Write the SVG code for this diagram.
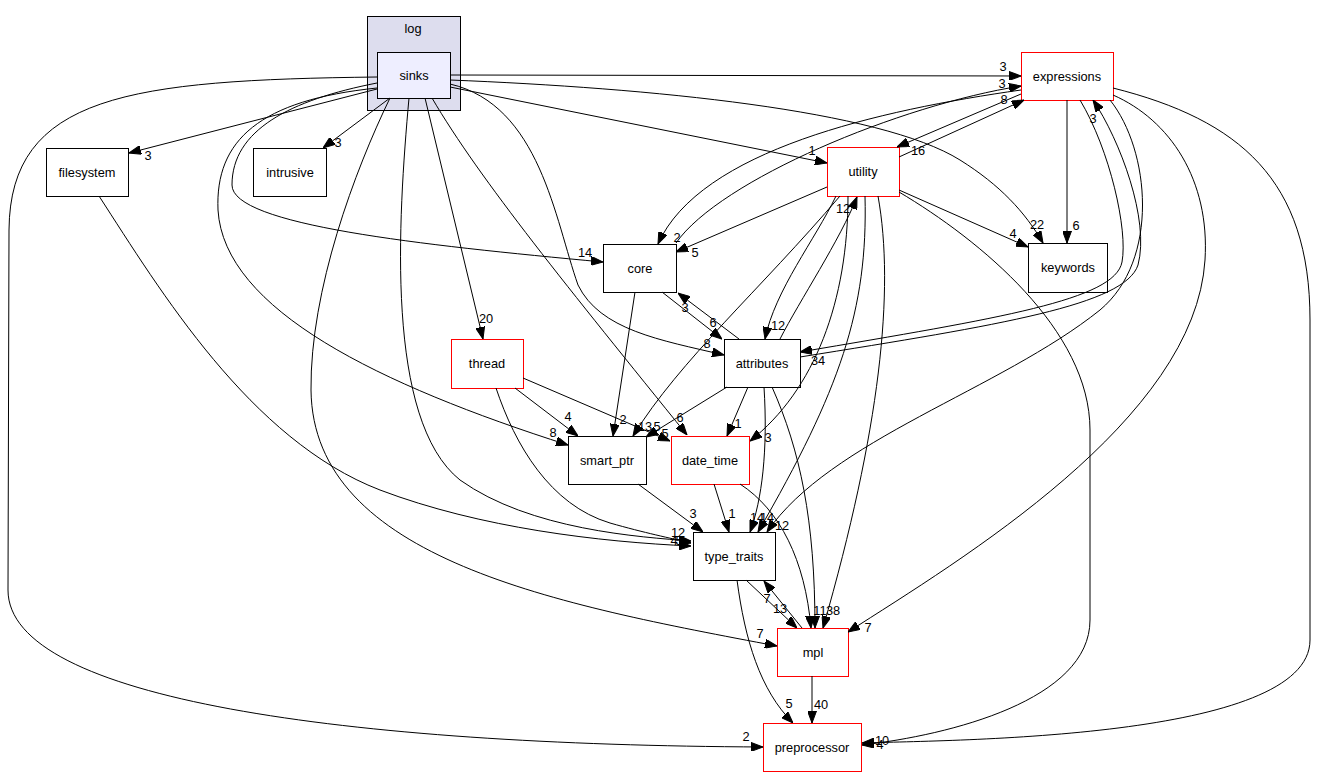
<svg xmlns="http://www.w3.org/2000/svg" width="1326" height="777" viewBox="0 0 1326 777">
<defs>
<marker id="ah" viewBox="0 0 12 9" refX="12" refY="4.5" markerWidth="12" markerHeight="9" orient="auto" markerUnits="userSpaceOnUse">
<path d="M0,0 L12,4.5 L0,9 z" fill="#000" stroke="#000" stroke-width="1"/>
</marker>
</defs>
<style>
text{font-family:"Liberation Sans",Arial,sans-serif;font-size:12.8px;fill:#000;text-anchor:middle}
.n rect{fill:#fff;stroke:#000;stroke-width:1}
.r rect{stroke:#ff0000}
.e path{fill:none;stroke:#000;stroke-width:1;marker-end:url(#ah)}
</style>
<rect width="1326" height="777" fill="#fff"/>
<g id="cluster_log">
<rect x="367.5" y="16.5" width="93" height="94" fill="#ddddee" stroke="#000"/>
<text x="413" y="32.5">log</text>
</g>
<g id="sinks" class="n"><rect x="377.5" y="52.5" width="73" height="46" style="fill:#eeeeff"/><text x="414" y="79.5">sinks</text></g>
<g id="expressions" class="n r"><rect x="1021.5" y="52.5" width="92" height="48"/><text x="1067" y="80.5">expressions</text></g>
<g id="utility" class="n r"><rect x="827.5" y="147.5" width="72" height="49"/><text x="863" y="176">utility</text></g>
<g id="core" class="n"><rect x="603.5" y="244.5" width="73" height="48"/><text x="640" y="272.5">core</text></g>
<g id="keywords" class="n"><rect x="1028.5" y="243.5" width="79" height="49"/><text x="1068" y="272">keywords</text></g>
<g id="filesystem" class="n"><rect x="46.5" y="148.5" width="82" height="48"/><text x="87" y="176.5">filesystem</text></g>
<g id="intrusive" class="n"><rect x="253.5" y="148.5" width="73" height="48"/><text x="290" y="176.5">intrusive</text></g>
<g id="attributes" class="n"><rect x="724.5" y="339.5" width="76" height="48"/><text x="762" y="367.5">attributes</text></g>
<g id="thread" class="n r"><rect x="451.5" y="339.5" width="72" height="49"/><text x="487" y="368">thread</text></g>
<g id="smart_ptr" class="n"><rect x="568.5" y="436.5" width="78" height="48"/><text x="607" y="464.5">smart_ptr</text></g>
<g id="date_time" class="n r"><rect x="671.5" y="436.5" width="78" height="48"/><text x="710" y="464.5">date_time</text></g>
<g id="type_traits" class="n"><rect x="693.5" y="532.5" width="82" height="48"/><text x="734" y="560.5">type_traits</text></g>
<g id="mpl" class="n r"><rect x="777.5" y="628.5" width="71" height="48"/><text x="813" y="656.5">mpl</text></g>
<g id="preprocessor" class="n r"><rect x="763.5" y="723.5" width="98" height="48"/><text x="812" y="751.5">preprocessor</text></g>
<g id="connectors" class="e">
<path d="M450,75 L1021,76"/>
<path d="M377,89 L129,153"/>
<path d="M390,98 L323,148"/>
<path d="M377,83 C290,100 232,130 232,185 C232,225 420,245 603,262"/>
<path d="M377,88 C260,100 215,140 218,210 C224,310 380,385 568,445"/>
<path d="M377,77 C130,80 10,95 9,230 L8,590 C8,700 350,745 763,747"/>
<path d="M409,98 C398,220 385,420 460,480 C530,530 640,537 691,541"/>
<path d="M99,196 C160,290 250,440 380,490 C480,528 600,542 691,546"/>
<path d="M496,388 C515,445 550,505 610,523 C645,533 670,538 691,543"/>
<path d="M390,98 C355,170 310,290 311,390 C313,560 560,605 777,646"/>
<path d="M425,98 L483,339"/>
<path d="M432,98 C480,180 570,290 687,435"/>
<path d="M450,84 C540,105 555,220 578,285 C600,330 660,340 724,355"/>
<path d="M450,87 L827,163"/>
<path d="M450,80 C650,88 880,110 960,160 C1000,185 1025,212 1043,243"/>
<path d="M827,187 L676,252"/>
<path d="M1021,90 C880,110 700,150 658,244"/>
<path d="M676,243 C720,180 900,105 1021,86"/>
<path d="M899,157 L1024,100"/>
<path d="M1021,94 L897,147"/>
<path d="M899,190 L1028,247"/>
<path d="M1067,100 L1067,243"/>
<path d="M836,196 C815,240 775,290 765,339"/>
<path d="M780,339 C800,300 840,240 857,197"/>
<path d="M840,196 C760,290 680,360 633,436"/>
<path d="M635,292 L613,436"/>
<path d="M727,387 L646,437"/>
<path d="M848,196 C848,300 815,390 750,441"/>
<path d="M748,387 L727,436"/>
<path d="M523,378 L670,441"/>
<path d="M515,388 L578,436"/>
<path d="M714,484 L729,532"/>
<path d="M638,484 L703,532"/>
<path d="M764,387 C768,450 762,500 750,532"/>
<path d="M865,196 C868,310 840,390 758,532"/>
<path d="M1110,100 C1150,150 1160,260 1100,310 C1000,390 830,440 767,532"/>
<path d="M740,484 C780,510 805,560 811,628"/>
<path d="M772,387 C800,450 815,520 815,628"/>
<path d="M878,196 C895,290 880,430 823,628"/>
<path d="M746,580 L797,628"/>
<path d="M802,628 L764,581"/>
<path d="M737,580 C745,640 760,690 793,723"/>
<path d="M812,676 L812,723"/>
<path d="M1113,95 C1170,120 1210,180 1205,260 C1195,420 960,560 848,632"/>
<path d="M1113,88 C1240,120 1310,180 1310,320 L1310,640 C1310,740 950,740 862,743"/>
<path d="M899,192 C980,240 1090,330 1090,430 L1090,620 C1090,700 950,735 862,745"/>
<path d="M1080,100 C1110,150 1128,230 1122,262 C1115,300 1000,318 800,352"/>
<path d="M800,357 C1000,325 1125,305 1138,265 C1150,220 1120,140 1093,100"/>
<path d="M662,292 L722,339"/>
<path d="M739,339 L678,293"/>
</g>
<g id="labels">
<text x="1003" y="70.5">3</text>
<text x="1002" y="87.5">3</text>
<text x="1004" y="103.5">8</text>
<text x="1093" y="122.5">3</text>
<text x="918" y="154.5">16</text>
<text x="812" y="154.5">1</text>
<text x="677" y="241.5">2</text>
<text x="695" y="256.5">5</text>
<text x="585" y="256.5">14</text>
<text x="1037" y="228.5">22</text>
<text x="1013" y="237.5">4</text>
<text x="1076" y="229.5">6</text>
<text x="778" y="329.5">12</text>
<text x="843" y="212.5">12</text>
<text x="685" y="311.5">3</text>
<text x="713" y="326.5">6</text>
<text x="707" y="347.5">8</text>
<text x="818" y="364.5">34</text>
<text x="148" y="159.5">3</text>
<text x="338" y="146.5">3</text>
<text x="486" y="322.5">20</text>
<text x="568" y="420.5">4</text>
<text x="553" y="436.5">8</text>
<text x="623" y="423.5">2</text>
<text x="645" y="430.5">13</text>
<text x="657" y="430.5">5</text>
<text x="665" y="437.5">5</text>
<text x="680" y="421.5">6</text>
<text x="738" y="427.5">1</text>
<text x="768" y="441.5">3</text>
<text x="693" y="517.5">3</text>
<text x="732" y="517.5">1</text>
<text x="757" y="521.5">14</text>
<text x="767" y="521.5">14</text>
<text x="782" y="529.5">12</text>
<text x="678" y="536.5">12</text>
<text x="674" y="544.5">4</text>
<text x="679" y="544.5">5</text>
<text x="767" y="602.5">7</text>
<text x="780" y="612.5">13</text>
<text x="760" y="637.5">7</text>
<text x="820" y="614.5">11</text>
<text x="833" y="614.5">38</text>
<text x="868" y="631.5">7</text>
<text x="746" y="740.5">2</text>
<text x="789" y="707.5">5</text>
<text x="821" y="708.5">40</text>
<text x="882" y="744.5">10</text>
<text x="880" y="748.5">4</text>
</g>
</svg>
